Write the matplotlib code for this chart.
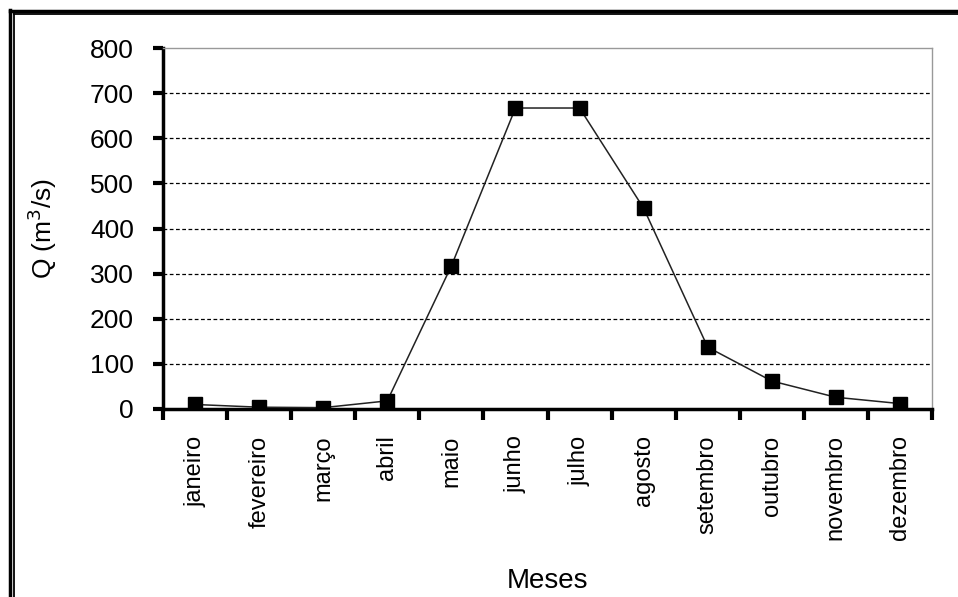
import matplotlib
matplotlib.use("Agg")
import matplotlib.pyplot as plt
from matplotlib.lines import Line2D

# Monthly discharge
months = ['janeiro', 'fevereiro', 'março', 'abril', 'maio', 'junho',
          'julho', 'agosto', 'setembro', 'outubro', 'novembro', 'dezembro']
discharge = [10, 4, 3, 18, 317, 667, 667, 445, 137, 62, 26, 12]
y_ticks = [0, 100, 200, 300, 400, 500, 600, 700, 800]

plt.rcParams['font.family'] = ['Liberation Sans', 'DejaVu Sans']

W, H = 958, 597
fig = plt.figure(figsize=(W / 100, H / 100), dpi=100)
ax = fig.add_axes([163 / W, 1 - 409 / H, (932 - 163) / W, (409 - 48) / H])

x = list(range(len(months)))
ax.plot(x, discharge, color='#222222', lw=1.1, marker='s', markersize=10.5,
        markerfacecolor='black', markeredgecolor='black', zorder=3)

ax.set_xlim(-0.5, len(months) - 0.5)
ax.set_ylim(0, 800)
ax.set_yticks(y_ticks)
ax.set_yticklabels([str(v) for v in y_ticks], fontsize=19)

# category labels in the middle, ticks at the boundaries
ax.set_xticks(x)
ax.set_xticklabels(months, rotation=90, fontsize=17)
ax.tick_params(axis='x', which='major', length=0, pad=19)
ax.set_xticks([i - 0.5 for i in range(len(months) + 1)], minor=True)
ax.tick_params(axis='x', which='minor', length=8, width=3, direction='out')
ax.tick_params(axis='y', length=7, width=3, direction='out', pad=14)

# dashed gridlines
for v in y_ticks[1:-1]:
    ax.axhline(v, color='black', lw=0.9, ls=(0, (3, 2)), zorder=1)

for side in ['left', 'bottom']:
    ax.spines[side].set_linewidth(2.5)
    ax.spines[side].set_color('black')
for side in ['top', 'right']:
    ax.spines[side].set_linewidth(1)
    ax.spines[side].set_color('#999999')

ax.set_ylabel('Q (m$^3$/s)', fontsize=19, labelpad=22)
ax.set_xlabel('Meses', fontsize=20, labelpad=20)

# double frame around the picture (left and top edges)
fig.add_artist(Line2D([9.5 / W, 9.5 / W], [0, 1 - 9.5 / H], transform=fig.transFigure,
                      color='black', lw=2.5))
fig.add_artist(Line2D([9.5 / W, 1], [1 - 10.5 / H, 1 - 10.5 / H], transform=fig.transFigure,
                      color='black', lw=2.5))
fig.add_artist(Line2D([13.5 / W, 13.5 / W], [0, 1 - 14 / H], transform=fig.transFigure,
                      color='black', lw=1.3))
fig.add_artist(Line2D([13.5 / W, 1], [1 - 14 / H, 1 - 14 / H], transform=fig.transFigure,
                      color='black', lw=1.3))

fig.savefig('out.png', dpi=100)
